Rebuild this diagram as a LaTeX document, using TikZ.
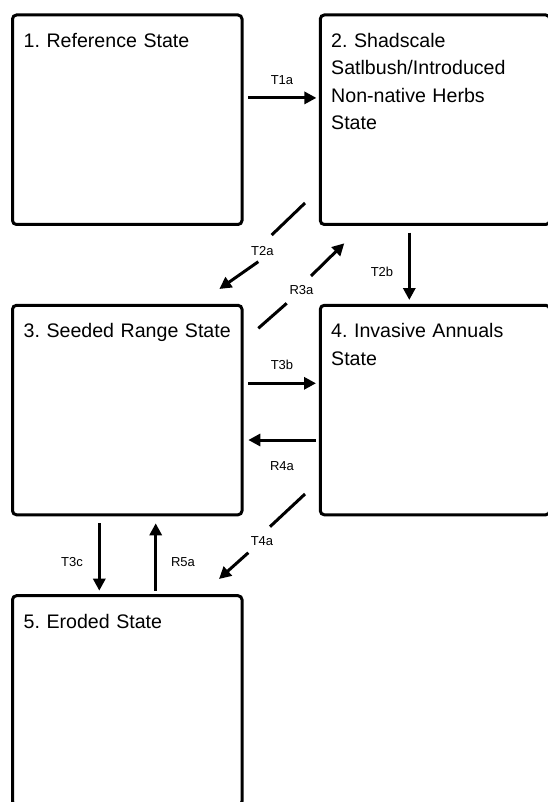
\documentclass[tikz,border=0pt]{standalone}
\usepackage{fontspec}
\setmainfont{Liberation Sans}
\usetikzlibrary{arrows.meta}
\begin{document}
\begin{tikzpicture}[x=1pt,y=-1pt,
  statebox/.style={draw, line width=3pt, rounded corners=4pt, minimum width=229.5pt, minimum height=209.5pt, inner sep=0pt},
  statetext/.style={anchor=base west, inner sep=0pt, text width=220pt, align=left, font=\fontsize{19.6}{27.3}\selectfont\frenchspacing},
  conn/.style={line width=3pt, -{Triangle[length=12pt,width=12pt]}},
  seg/.style={line width=3pt},
  lbl/.style={inner sep=0pt, font=\fontsize{13}{15}\selectfont}]
\useasboundingbox (0,0) rectangle (548,802);
\begin{scope}
\clip (0,0) rectangle (548,802);
% boxes
\node[statebox] (b1) at (127.25,119.75) {};
\node[statebox] (b2) at (435.05,119.75) {};
\node[statebox] (b3) at (127.25,410.05) {};
\node[statebox] (b4) at (435.05,410.05) {};
\node[statebox] (b5) at (127.25,700.45) {};
% texts
\node[statetext] (s1) at (23.5,47.5) {1. Reference State};
\node[statetext] (s2) at (331,47.5) {2. Shadscale\\Satlbush/Introduced\\Non-native Herbs\\State};
\node[statetext] (s3) at (23.5,337.8) {3. Seeded Range State};
\node[statetext] (s4) at (331,337.8) {4. Invasive Annuals\\State};
\node[statetext] (s5) at (23.5,628.2) {5. Eroded State};
% T1a
\coordinate (t1s) at (248.3,97.9); \coordinate (t1e) at (316.4,97.9);
\draw[conn] (t1s) -- (t1e);
\node[lbl] (lt1a) at (282,80) {T1a};
% T2a
\coordinate (t2as) at (305,203); \coordinate (t2am) at (271.7,235);
\coordinate (t2an) at (258.3,261.7); \coordinate (t2ae) at (219.3,289);
\draw[seg] (t2as) -- (t2am);
\draw[conn] (t2an) -- (t2ae);
\node[lbl] (lt2a) at (262.3,251) {T2a};
% R3a
\coordinate (r3as) at (258.3,328.3); \coordinate (r3am) at (286.7,303.3);
\coordinate (r3an) at (311,276); \coordinate (r3ae) at (344.3,243.3);
\draw[seg] (r3as) -- (r3am);
\draw[conn] (r3an) -- (r3ae);
\node[lbl] (lr3a) at (301.5,290) {R3a};
% T2b
\coordinate (t2bs) at (409.3,232.7); \coordinate (t2be) at (409.3,300);
\draw[conn] (t2bs) -- (t2be);
\node[lbl] (lt2b) at (382,271.7) {T2b};
% T3b
\coordinate (t3bs) at (248.3,383.3); \coordinate (t3be) at (316,383.3);
\draw[conn] (t3bs) -- (t3be);
\node[lbl] (lt3b) at (282,365) {T3b};
% R4a
\coordinate (r4as) at (316,440); \coordinate (r4ae) at (248.3,440);
\draw[conn] (r4as) -- (r4ae);
\node[lbl] (lr4a) at (282,466) {R4a};
% T4a
\coordinate (t4as) at (305,494); \coordinate (t4am) at (270,526.7);
\coordinate (t4an) at (248.3,552.7); \coordinate (t4ae) at (219,579);
\draw[seg] (t4as) -- (t4am);
\draw[conn] (t4an) -- (t4ae);
\node[lbl] (lt4a) at (262,541) {T4a};
% T3c
\coordinate (t3cs) at (99.3,523.3); \coordinate (t3ce) at (99.3,590.7);
\draw[conn] (t3cs) -- (t3ce);
\node[lbl] (lt3c) at (72,561.7) {T3c};
% R5a
\coordinate (r5as) at (155.7,590.7); \coordinate (r5ae) at (155.7,523.3);
\draw[conn] (r5as) -- (r5ae);
\node[lbl] (lr5a) at (183,561.7) {R5a};
\end{scope}
\end{tikzpicture}
\end{document}
